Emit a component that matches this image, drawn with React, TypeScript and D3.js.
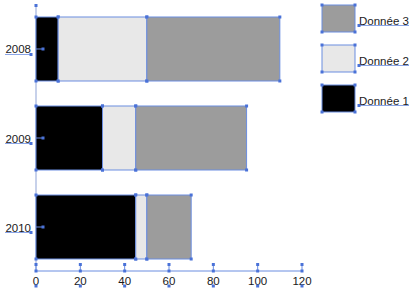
import React from "react";
import * as d3 from "d3";

const categories = ["2008", "2009", "2010"];
const seriesNames = ["Donnée 1", "Donnée 2", "Donnée 3"];
const donnee1 = [10, 30, 45];
const donnee2 = [40, 15, 5];
const donnee3 = [60, 50, 20];
const xTicks = [0, 20, 40, 60, 80, 100, 120];

const colors = ["#000000", "#e8e8e8", "#9c9c9c"];
const BLUE = "#6b8de0";
const DOT = "#4a72d8";

const W = 414;
const H = 291;

function Dot({ x, y }: { x: number; y: number }) {
  return <rect x={x - 1.5} y={y - 1.5} width={3} height={3} fill={DOT} />;
}

export default function App() {
  const x = d3.scaleLinear().domain([0, 120]).range([36, 302]);
  const y = d3
    .scaleBand<string>()
    .domain(categories)
    .range([17, 259])
    .paddingInner(0.281)
    .paddingOuter(0);

  const rows = categories.map((c, i) => ({
    cat: c,
    d1: donnee1[i],
    d2: donnee2[i],
    d3: donnee3[i],
  }));
  const stack = d3.stack<any>().keys(["d1", "d2", "d3"])(rows);

  const axisY = 271;
  const font = "'Liberation Sans', Arial, sans-serif";

  const legendOrder = [2, 1, 0];

  return (
    <svg
      width={W}
      height={H}
      style={{ position: "absolute", left: 0, top: 0 }}
      fontFamily={font}
    >
      <rect x={0} y={0} width={W} height={H} fill="#fff" />
      {/* y axis */}
      <line x1={36} x2={36} y1={5.5} y2={axisY} stroke="#8fa3d6" strokeWidth={1} />
      <Dot x={36} y={5.5} />

      {/* bars */}
      {stack.map((layer, si) =>
        layer.map((d, i) => {
          const x0 = x(d[0]);
          const x1 = x(d[1]);
          const y0 = y(categories[i])!;
          const h = y.bandwidth();
          return (
            <g key={`${si}-${i}`}>
              <rect
                x={x0}
                y={y0}
                width={x1 - x0}
                height={h}
                fill={colors[si]}
                stroke={BLUE}
                strokeWidth={1}
              />
              <Dot x={x0} y={y0} />
              <Dot x={x1} y={y0} />
              <Dot x={x0} y={y0 + h} />
              <Dot x={x1} y={y0 + h} />
            </g>
          );
        })
      )}

      {/* y labels */}
      {categories.map((c) => {
        const cy = y(c)! + y.bandwidth() / 2;
        return (
          <g key={c}>
            <line x1={36} x2={43} y1={cy} y2={cy} stroke={BLUE} />
            <Dot x={43} y={cy} />
            <text
              x={31}
              y={cy + 4.5}
              textAnchor="end"
              fontSize={11.5}
              fill="#1a1a1a"
            >
              {c}
            </text>
            <line x1={5} x2={31} y1={cy + 5.5} y2={cy + 5.5} stroke={BLUE} strokeWidth={0.8} />
            <Dot x={31} y={cy + 5.5} />
          </g>
        );
      })}

      {/* x axis */}
      <line x1={x(0)} x2={x(120)} y1={axisY} y2={axisY} stroke={BLUE} />
      {xTicks.map((t) => (
        <g key={t}>
          <line x1={x(t)} x2={x(t)} y1={264.5} y2={axisY} stroke={BLUE} />
          <Dot x={x(t)} y={264.5} />
          <Dot x={x(t)} y={axisY} />
          <text
            x={x(t)}
            y={285}
            textAnchor="middle"
            fontSize={11.5}
            fill="#1a1a1a"
          >
            {t}
          </text>
          <Dot x={x(t)} y={286} />
        </g>
      ))}

      {/* legend */}
      {legendOrder.map((si, k) => {
        const ly = 5 + k * 40;
        return (
          <g key={si}>
            <rect
              x={322}
              y={ly}
              width={33}
              height={27}
              fill={colors[si]}
              stroke={BLUE}
            />
            <Dot x={322} y={ly} />
            <Dot x={355} y={ly} />
            <Dot x={322} y={ly + 27} />
            <Dot x={355} y={ly + 27} />
            <text x={359} y={ly + 20} fontSize={11.5} fill="#1a1a1a">
              {seriesNames[si]}
            </text>
            <line x1={359} x2={409} y1={ly + 20.5} y2={ly + 20.5} stroke={BLUE} strokeWidth={0.8} />
            <Dot x={359} y={ly + 20.5} />
          </g>
        );
      })}
    </svg>
  );
}
